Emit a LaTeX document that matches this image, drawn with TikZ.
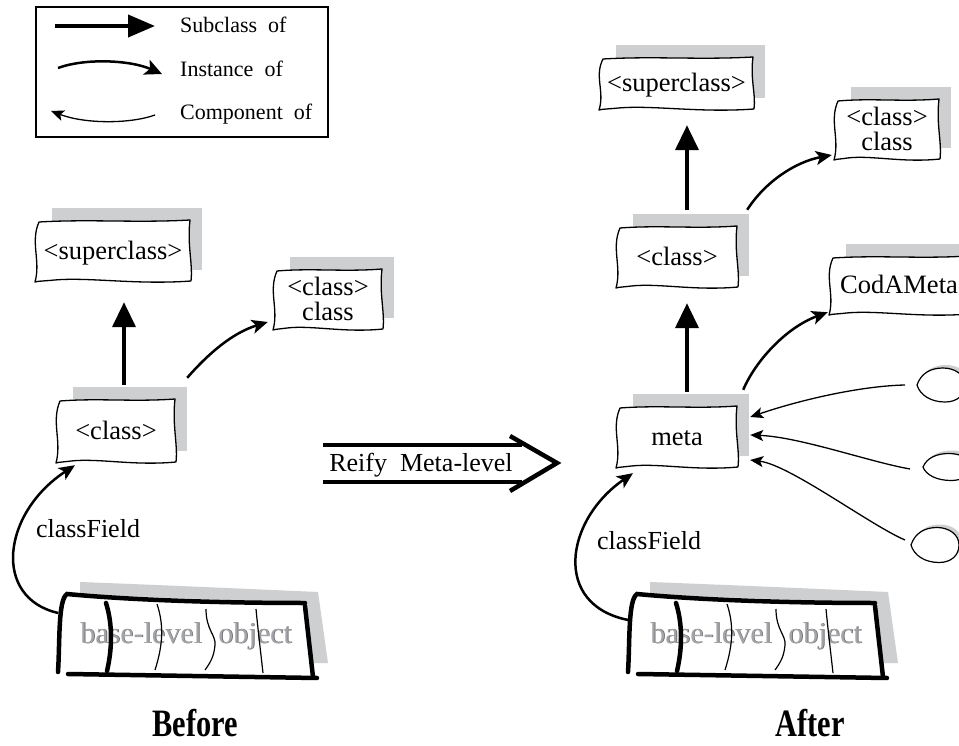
\documentclass[tikz,border=0pt]{standalone}
\usepackage{fontspec}
\setmainfont{Liberation Serif}
\usetikzlibrary{arrows.meta,calc}

\definecolor{shadowgrey}{RGB}{205,207,209}
\definecolor{ghost}{RGB}{163,165,168}
\definecolor{ghostdark}{RGB}{95,95,98}

\tikzset{
  boxline/.style={line width=1.3pt, line join=round, fill=white},
  boxtext/.style={font=\fontsize{26.5}{25}\selectfont, align=center,
    text height=19pt, text depth=3pt, inner sep=0pt},
  labeltext/.style={font=\fontsize{26}{26}\selectfont, anchor=base, inner sep=0pt},
  legendtext/.style={font=\fontsize{22}{22}\selectfont, anchor=base west, inner sep=0pt},
  ghosttext/.style={font=\fontsize{30}{30}\selectfont, text=ghost,
    text height=21pt, text depth=7pt, inner sep=0pt},
  titletext/.style={font=\bfseries\fontsize{31}{31}\selectfont, anchor=base, inner sep=0pt},
  heavy/.style={line width=4.5pt, line cap=round},
  thin/.style={line width=1.2pt},
  subclassarrow/.style={line width=4pt, -{Triangle[length=25pt,width=23pt]}},
  instancearrow/.style={line width=2.5pt, -{Stealth[length=16pt,width=14pt,inset=4pt]}},
  componentarrow/.style={line width=1.3pt, -{Stealth[length=13pt,width=11pt,inset=3pt]}},
}

% hand-drawn box with a grey offset shadow: [node options], name, x1, y1, x2, y2, text
\newcommand\sketchbox[7][]{%
  \fill[shadowgrey] ({#3+16},{#4-13}) rectangle ({#5+12},{#6-12});
  \draw[boxline]
    ({#3+3},{#4+1})
      .. controls ({#3+0.35*(#5-#3)},{#4-2}) and ({#3+0.65*(#5-#3)},{#4+2}) .. ({#5},{#4-1})
      .. controls ({#5-3},{#4+0.4*(#6-#4)}) and ({#5+3},{#4+0.7*(#6-#4)}) .. ({#5+1},{#6-1})
      .. controls ({#3+0.65*(#5-#3)},{#6+3}) and ({#3+0.35*(#5-#3)},{#6-5}) .. ({#3+0.12*(#5-#3)},{#6-2})
      .. controls ({#3+0.06*(#5-#3)},{#6-1}) and ({#3+2},{#6-1}) .. ({#3-1},{#6})
      .. controls ({#3+5},{#4+0.65*(#6-#4)}) and ({#3-6},{#4+0.35*(#6-#4)}) .. ({#3+3},{#4+1})
      -- cycle;
  \node[boxtext, minimum width={(#5-#3)*1pt}, minimum height={(#6-#4)*1pt}, #1]
    (#2) at ({(#3+#5)/2},{(#4+#6)/2}) {#7};
}

% outline of a small object blob, tip at the origin
\newcommand\blobpath[1]{%
  (0,0) .. controls (4,{-0.35*#1}) and (14,{-0.5*#1}) .. (26,{-0.5*#1})
  .. controls (38,{-0.5*#1}) and (48,{-0.3*#1}) .. (48,0)
  .. controls (48,{0.3*#1}) and (40,{0.5*#1}) .. (28,{0.5*#1})
  .. controls (14,{0.5*#1}) and (3,{0.3*#1}) .. (0,0) -- cycle}

% blob: name, tip x, tip y, height
\newcommand\blob[4]{%
  \begin{scope}[shift={(#2,#3)}]
    \fill[shadowgrey, shift={(3,-3)}] \blobpath{#4};
    \draw[line width=1.2pt, fill=white] \blobpath{#4};
  \end{scope}
  \coordinate (#1) at (#2,#3);
}

% the segmented base-level object (left position; shift with a scope)
\newcommand\baseobject[1]{%
  \fill[shadowgrey] (80,582) .. controls (160,585) and (250,589) .. (318,592)
    -- (328,663) -- (306,663) -- (300,604) -- (80,598) -- cycle;
  \fill[white] (58,672) -- (62,603) -- (67,594) -- (305,603) -- (313,677) -- cycle;
  \node[ghosttext, text=ghostdark] at (186.7,636.7) {base-level\hspace{0.55em}object};
  \node[ghosttext, minimum width=255pt, minimum height=80pt] (#1) at (186,636)
    {base-level\hspace{0.55em}object};
  \draw[heavy] (58,672) .. controls (60,640) and (58,600) .. (67,594)
    .. controls (130,600) and (220,603) .. (305,603);
  \draw[heavy] (305,606) -- (313,677);
  \draw[heavy] (68,674) -- (317,678);
  \draw[heavy] (106,603) .. controls (113,625) and (112,650) .. (107,671);
  \draw[thin] (157,604) .. controls (164,625) and (163,645) .. (155,670);
  \draw[thin] (206,609) .. controls (206,630) and (216,635) .. (215,645)
    .. controls (214,657) and (210,663) .. (205,670);
  \draw[thin] (256,609) .. controls (258,630) and (261,655) .. (263,673);
}

\begin{document}
\begin{tikzpicture}[x=1pt,y=-1pt]
\clip (0,0) rectangle (959,746);
\fill[white] (0,0) rectangle (959,746);

% ---------- legend ----------
\draw[line width=1.5pt] (36,7) rectangle (328,137);
\coordinate (lsA) at (55,26);   \coordinate (lsB) at (155,26);
\coordinate (liA) at (58,68);   \coordinate (liB) at (162,74);
\coordinate (lcA) at (155,115); \coordinate (lcB) at (51,111);
\draw[line width=4pt, -{Triangle[length=27pt,width=22pt]}] (lsA) -- (lsB);
\draw[line width=2.5pt, -{Stealth[length=17pt,width=16pt,inset=4pt]}]
  (liA) .. controls (85,58) and (130,60) .. (liB);
\draw[componentarrow] (lcA) .. controls (130,124) and (85,124) .. (lcB);
\node[legendtext] (lgsub) at (180,33) {Subclass\ \ of};
\node[legendtext] (lginst) at (180,77) {Instance\ \ of};
\node[legendtext] (lgcomp) at (180,120) {Component\ \ of};

% ---------- before ----------
\sketchbox{supL}{36}{221}{190}{282}{\textless superclass\textgreater}
\sketchbox[text height=44pt]{metaclassL}{274}{270}{382}{330}{\textless class\textgreater\\class}
\sketchbox{classL}{57}{400}{175}{463}{\textless class\textgreater}
\baseobject{baseL}

\draw[subclassarrow] ([xshift=8pt,yshift=15pt]classL.north) -- ([xshift=11pt,yshift=-20pt]supL.south);
\draw[instancearrow] ([xshift=12pt,yshift=22pt]classL.north east)
  .. controls (208,354) and (232,333) .. ([xshift=-6pt,yshift=-22pt]metaclassL.west);
\draw[instancearrow] ([yshift=23pt]baseL.west)
  .. controls (-8,598) and (2,513) .. ([xshift=-41pt,yshift=-2pt]classL.south);
\node[labeltext] (cfL) at (88,537) {classField};
\node[titletext] (before) at (195,736) {\scalebox{0.98}[1.25]{Before}};

% ---------- reify arrow ----------
\node[labeltext] (reify) at (421,471) {Reify\hspace{0.5em}Meta-level};
\draw[line width=4pt] (323,445) -- (522,445);
\draw[line width=4pt] (323,482) -- (522,482);
\draw[line width=4.5pt, line join=miter] (510,436) -- (557,463) -- (510,491);

% ---------- after ----------
\sketchbox{supR}{600}{58}{753}{110}{\textless superclass\textgreater}
\sketchbox[text height=44pt]{metaclassR}{835}{100}{939}{160}{\textless class\textgreater\\class}
\sketchbox{classR}{617}{227}{737}{288}{\textless class\textgreater}
\sketchbox{codameta}{830}{257}{968}{315}{CodAMeta}
\sketchbox{meta}{617}{407}{737}{468}{meta}
\begin{scope}[xshift=570pt]
  \baseobject{baseR}
\end{scope}

\blob{obj1}{917}{385}{34}
\blob{obj2}{923}{467}{27}
\blob{obj3}{911}{545}{35}

\draw[subclassarrow] ([xshift=10pt,yshift=17pt]classR.north) -- ([xshift=10.5pt,yshift=-15pt]supR.south);
\draw[subclassarrow] ([xshift=10pt,yshift=15pt]meta.north) -- ([xshift=10pt,yshift=-15pt]classR.south);
\draw[instancearrow] ([xshift=10pt,yshift=17pt]classR.north east)
  .. controls (765,182) and (795,162) .. ([xshift=-3pt,yshift=-25pt]metaclassR.west);
\draw[instancearrow] ([xshift=6pt,yshift=17pt]meta.north east)
  .. controls (755,362) and (785,328) .. ([xshift=-2pt,yshift=3pt]codameta.south west);
\draw[instancearrow] ([yshift=16pt]baseR.west)
  .. controls (552,605) and (565,520) .. ([xshift=-44pt,yshift=-5pt]meta.south);
\node[labeltext] (cfR) at (649,549) {classField};

\draw[componentarrow] ([xshift=-12pt]obj1)
  .. controls (860,386) and (800,400) .. ([xshift=13pt,yshift=20.5pt]meta.east);
\draw[componentarrow] ([xshift=-13pt,yshift=-2pt]obj2)
  .. controls (870,462) and (800,437) .. ([xshift=13pt,yshift=2.5pt]meta.east);
\draw[componentarrow] ([xshift=-6pt,yshift=5pt]obj3)
  .. controls (870,525) and (790,465) .. ([xshift=13pt,yshift=-22.5pt]meta.east);

\node[titletext] (after) at (810,736) {\scalebox{0.98}[1.25]{After}};
\end{tikzpicture}
\end{document}
